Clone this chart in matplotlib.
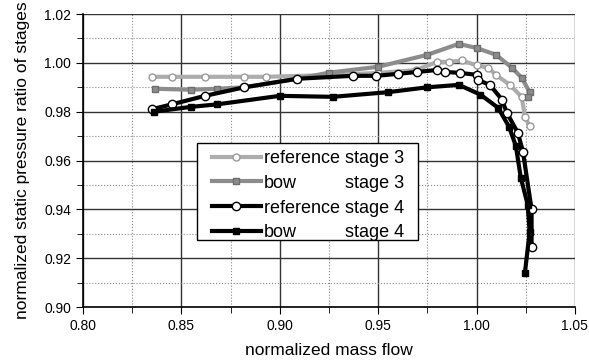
import matplotlib
matplotlib.use('Agg')
import matplotlib.pyplot as plt
from matplotlib.patches import Rectangle
from matplotlib.ticker import MultipleLocator, FormatStrFormatter

plt.rcParams['font.family'] = ['Liberation Sans', 'DejaVu Sans']

# reference stage 3
x3r = [0.835, 0.845, 0.862, 0.882, 0.893, 0.925, 0.950, 0.969, 0.980, 0.986,
       0.9925, 1.000, 1.006, 1.010, 1.017, 1.023, 1.0246, 1.027]
y3r = [0.9943, 0.9943, 0.9943, 0.9943, 0.9943, 0.995, 0.9959, 0.997, 1.0004, 1.0004,
       1.001, 0.999, 0.998, 0.995, 0.991, 0.986, 0.978, 0.974]

# bow stage 3
x3b = [0.8366, 0.855, 0.868, 0.882, 0.909, 0.925, 0.950, 0.975, 0.991, 1.000,
       1.010, 1.018, 1.023, 1.027, 1.026]
y3b = [0.9894, 0.989, 0.9894, 0.990, 0.9935, 0.996, 0.9984, 1.0033, 1.0078, 1.0061,
       1.0033, 0.998, 0.9939, 0.988, 0.986]

# reference stage 4
x4r = [0.835, 0.845, 0.862, 0.882, 0.909, 0.937, 0.949, 0.960, 0.970, 0.980, 0.984,
       0.9916, 1.0002, 1.0007, 1.0068, 1.0129, 1.0154, 1.021, 1.0236, 1.028, 1.028]
y4r = [0.981, 0.983, 0.9865, 0.990, 0.9935, 0.9947, 0.9947, 0.9955, 0.9963, 0.9971, 0.9963,
       0.9959, 0.9951, 0.993, 0.991, 0.985, 0.9796, 0.9714, 0.9637, 0.940, 0.9245]

# bow stage 4
x4b = [0.836, 0.855, 0.868, 0.900, 0.927, 0.955, 0.975, 0.991, 1.002, 1.011,
       1.0165, 1.020, 1.0225, 1.026, 1.027, 1.0246]
y4b = [0.980, 0.982, 0.983, 0.9865, 0.9861, 0.988, 0.990, 0.991, 0.987, 0.9816,
       0.9739, 0.966, 0.953, 0.942, 0.9306, 0.914]

fig = plt.figure(figsize=(5.89, 3.6), dpi=100)
ax = fig.add_axes([0.141, 0.147, 0.835, 0.814])

ax.plot(x3r, y3r, '-o', color='#adadad', lw=3, ms=5, mfc='white', mec='#9a9a9a',
        label='reference stage 3', zorder=3)
ax.plot(x3b, y3b, '-s', color='#8c8c8c', lw=3, ms=4, mfc='#8c8c8c', mec='#6e6e6e',
        label='bow', zorder=4)
ax.plot(x4r, y4r, '-o', color='black', lw=3, ms=6, mfc='white', mec='black',
        label='reference stage 4', zorder=5)
ax.plot(x4b, y4b, '-s', color='black', lw=3, ms=5, mfc='black', mec='black',
        label='bow', zorder=6)

ax.set_xlim(0.80, 1.05)
ax.set_ylim(0.90, 1.02)
ax.xaxis.set_major_locator(MultipleLocator(0.05))
ax.xaxis.set_minor_locator(MultipleLocator(0.025))
ax.yaxis.set_major_locator(MultipleLocator(0.02))
ax.yaxis.set_minor_locator(MultipleLocator(0.01))
ax.xaxis.set_major_formatter(FormatStrFormatter('%.2f'))
ax.yaxis.set_major_formatter(FormatStrFormatter('%.2f'))

ax.grid(which='major', color='#333333', lw=1.0, ls='-')
ax.grid(which='minor', color='#888888', lw=0.8, ls=':')
ax.set_axisbelow(True)

for s in ['top', 'right']:
    ax.spines[s].set_visible(False)
ax.spines['left'].set_linewidth(1.2)
ax.spines['bottom'].set_linewidth(1.2)
ax.tick_params(which='both', direction='out', labelsize=10)
ax.tick_params(which='major', length=5)
ax.tick_params(which='minor', length=4)

ax.set_xlabel('normalized mass flow', fontsize=12.5, labelpad=7)
ax.set_ylabel('normalized static pressure ratio of stages', fontsize=12.5)
ax.yaxis.set_label_coords(-0.108, 0.5)

# legend box drawn separately so the inner padding matches
ax.add_patch(Rectangle((0.2317, 0.2287), 0.449, 0.331, transform=ax.transAxes,
                       facecolor='white', edgecolor='black', lw=1.0, zorder=9))
leg = ax.legend(loc='upper left', bbox_to_anchor=(0.262, 0.536), borderaxespad=0,
                fontsize=13, frameon=False, handlelength=2.7, handletextpad=0.2,
                labelspacing=0.43, borderpad=0, numpoints=1)
leg.set_zorder(10)

# put "stage N" of the bow rows in the same column as in the reference rows
fig.canvas.draw()
r = fig.canvas.get_renderer()
W, H = fig.bbox.width, fig.bbox.height
texts = leg.get_texts()
ref_bb = texts[0].get_window_extent(r)
tmp = fig.text(0, 0, 'stage 3', fontsize=13)
stage_w = tmp.get_window_extent(r).width
tmp.remove()
x_stage = ref_bb.x1 - stage_w
for t, lab in [(texts[1], 'stage 3'), (texts[3], 'stage 4')]:
    bx, by = t.get_transform().transform(t.get_position())
    fig.text(x_stage / W, by / H, lab, fontsize=13, va='baseline', ha='left', zorder=11)

fig.savefig('out.png', dpi=100)
